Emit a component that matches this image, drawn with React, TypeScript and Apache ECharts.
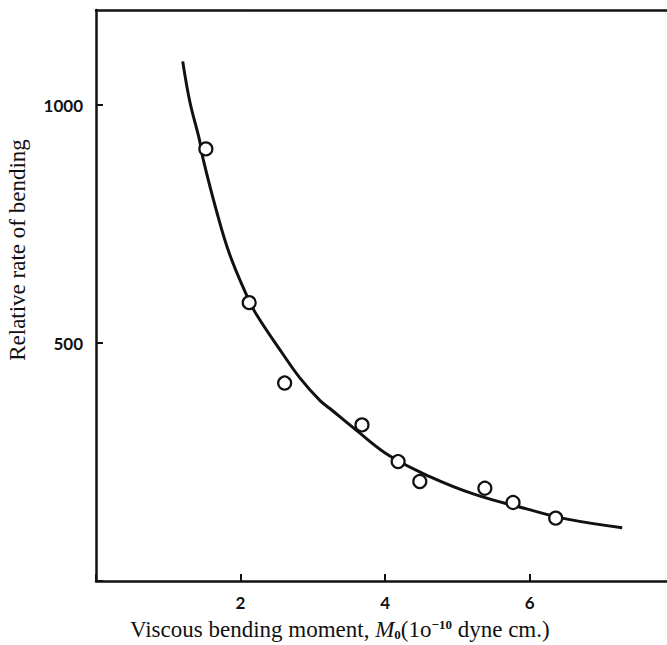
import React, { useEffect, useRef } from "react";
import * as echarts from "echarts";

const pointX = [1.52, 2.12, 2.61, 3.68, 4.18, 4.48, 5.38, 5.77, 6.36];
const pointY = [908, 585, 416, 328, 251, 209, 195, 165, 132];

const curveX = [1.2, 1.3, 1.43, 1.48, 1.67, 1.85, 2.08, 2.22, 2.59, 2.82, 3.1, 3.24, 3.6, 4.06, 4.61, 5.24, 5.97, 6.52, 7.28];
const curveY = [1092, 1006, 928, 888, 776, 686, 602, 560, 476, 427, 379, 362, 317, 263, 220, 182, 151, 130, 112];

const xTickLabels = [2, 4, 6];
const yTickLabels = [500, 1000];

const xTitle = "Viscous bending moment, ";
const yTitle = "Relative rate of bending";

export default function App() {
  const ref = useRef<HTMLDivElement>(null);
  useEffect(() => {
    if (!ref.current) return;
    const chart = echarts.init(ref.current, null, { renderer: "svg" });
    const tickFont = { fontFamily: "Lato", fontWeight: "bold" as const, fontSize: 17, color: "#111" };
    const lineStyle = { color: "#111", width: 2.5 };
    chart.setOption({
      animation: false,
      backgroundColor: "#fff",
      grid: {
        left: 96,
        top: 10,
        right: 0,
        bottom: 64,
        show: false,
      },
      xAxis: [
        {
          type: "value",
          min: 0,
          max: 7.9,
          interval: 2,
          axisLine: { show: true, onZero: false, lineStyle },
          axisTick: { show: true, inside: true, length: 7, lineStyle: { color: "#111", width: 2 } },
          splitLine: { show: false },
          axisLabel: {
            ...tickFont,
            margin: 13,
            showMaxLabel: false,
            formatter: (v: number) => (xTickLabels.includes(v) ? String(v) : ""),
          },
        },
        {
          type: "value",
          position: "top",
          min: 0,
          max: 7.9,
          axisLine: { show: true, onZero: false, lineStyle },
          axisTick: { show: false },
          axisLabel: { show: false },
          splitLine: { show: false },
        },
      ],
      yAxis: {
        type: "value",
        min: 0,
        max: 1200,
        interval: 500,
        axisLine: { show: true, onZero: false, lineStyle },
        axisTick: { show: true, inside: true, length: 7, lineStyle: { color: "#111", width: 2 } },
        splitLine: { show: false },
        axisLabel: {
          ...tickFont,
          margin: 13,
          showMaxLabel: false,
          formatter: (v: number) => (yTickLabels.includes(v) ? String(v) : ""),
        },
      },
      series: [
        {
          type: "line",
          data: curveX.map((x, i) => [x, curveY[i]]),
          smooth: 0.4,
          showSymbol: false,
          lineStyle: { color: "#111", width: 3 },
          z: 2,
        },
        {
          type: "scatter",
          data: pointX.map((x, i) => [x, pointY[i]]),
          symbol: "circle",
          symbolSize: 13,
          itemStyle: { color: "#fff", borderColor: "#111", borderWidth: 2.2, opacity: 1 },
          z: 3,
        },
      ],
      graphic: [
        {
          type: "text",
          left: 130,
          top: 618,
          style: {
            text: "{a|" + xTitle + "}{i|M}{s|0}{a|(1o}{p|−10}{a| dyne cm.)}",
            rich: {
              a: { fontFamily: "Liberation Serif", fontSize: 23, fill: "#111" },
              i: { fontFamily: "Liberation Serif", fontStyle: "italic", fontSize: 23, fill: "#111" },
              s: { fontFamily: "Liberation Serif", fontSize: 13, fontWeight: "bold", fill: "#111", verticalAlign: "bottom", padding: [9, 0, 0, 0] },
              p: { fontFamily: "Liberation Serif", fontSize: 13, fontWeight: "bold", fill: "#111", verticalAlign: "top", padding: [0, 0, 9, 0] },
            },
          },
        },
        {
          type: "text",
          x: 17,
          y: 250,
          rotation: Math.PI / 2,
          style: {
            text: yTitle,
            fontFamily: "Liberation Serif",
            fontSize: 23,
            fill: "#111",
            align: "center",
            verticalAlign: "middle",
          },
        },
      ],
    });
    return () => chart.dispose();
  }, []);
  return (
    <div
      ref={ref}
      style={{ position: "absolute", left: 0, top: 0, width: 667, height: 645 }}
    />
  );
}
